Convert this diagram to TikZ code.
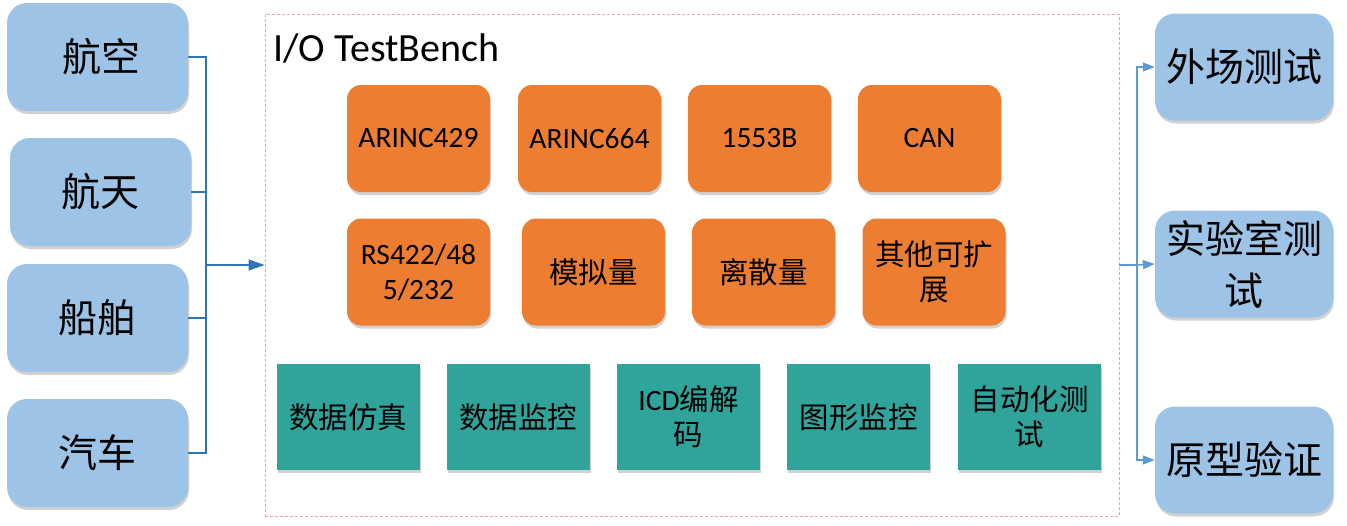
\documentclass[tikz,border=0pt]{standalone}
\usepackage{fontspec}
\setmainfont{Carlito}
\newfontfamily\cjk{Noto Sans CJK SC}
\usetikzlibrary{arrows.meta,shadows}
\definecolor{lblue}{HTML}{9DC3E6}
\definecolor{orng}{HTML}{ED7D31}
\definecolor{teal2}{HTML}{30A39B}
\definecolor{darkln}{HTML}{2E75B6}
\definecolor{lightln}{HTML}{5B9BD5}
\definecolor{framec}{HTML}{E9A3AE}
\tikzset{
  softshadow/.style={drop shadow={shadow xshift=1pt,shadow yshift=-3pt,opacity=0.18,fill=black}},
  sidebox/.style={softshadow,fill=lblue,rounded corners=20pt,minimum width=181pt,minimum height=108pt,inner sep=0pt,align=center,font=\cjk\fontsize{39}{52}\selectfont},
  rbox/.style={sidebox,minimum width=178pt,minimum height=107pt},
  obox/.style={softshadow,fill=orng,rounded corners=14pt,minimum width=143pt,minimum height=107pt,inner sep=0pt,align=center,font=\fontsize{29.5}{35}\selectfont},
  tbox/.style={softshadow,fill=teal2,minimum width=143pt,minimum height=106pt,inner sep=0pt,align=center,font=\fontsize{29.5}{35}\selectfont},
  benchframe/.style={draw=framec,dashed,line width=0.8pt,dash pattern=on 3pt off 2pt,minimum width=854pt,minimum height=502pt,inner sep=0pt},
  lline/.style={draw=darkln,line width=1.3pt},
  rline/.style={draw=lightln,line width=1.5pt}
}
\begin{document}
\begin{tikzpicture}[x=1pt,y=-1pt]
\useasboundingbox (0,0) rectangle (1347,525);
% frame
\node[benchframe] (bench) at (692,265) {};
\node[anchor=base west,font=\fontsize{40}{46}\selectfont,inner sep=0pt] (title) at (273,61) {I/O TestBench};
% left boxes
\node[sidebox] (hk) at (97.5,57) {\hspace*{8pt}航空};
\node[sidebox] (ht) at (100.5,192) {航天};
\node[sidebox] (cb) at (97.5,318) {船舶};
\node[sidebox] (qc) at (97.5,453) {汽车};
% right boxes
\node[rbox] (wc) at (1244,67) {外场测试};
\node[rbox] (sy) at (1244,264) {实验室测\\试};
\node[rbox] (yx) at (1244,460) {原型验证};
% orange row 1
\node[obox] (a429) at (418.5,138.5) {ARINC429};
\node[obox] (a664) at (589.5,138.5) {ARINC664};
\node[obox] (b1553) at (759.5,138.5) {1553B};
\node[obox] (can) at (929.5,138.5) {CAN};
% orange row 2
\node[obox] (rs) at (418.5,272) {RS422/48\\5/232};
\node[obox] (mn) at (593.5,272) {\cjk 模拟量};
\node[obox] (ls) at (763.5,272) {\cjk 离散量};
\node[obox] (qt) at (934,272) {{\cjk 其他可扩}\\{\cjk 展}};
% teal row
\node[tbox] (fz) at (348,417) {\cjk 数据仿真};
\node[tbox] (jk) at (518,417) {\cjk 数据监控};
\node[tbox] (icd) at (688.5,417) {{ICD\cjk 编解}\\{\cjk 码}};
\node[tbox] (tx) at (858.5,417) {\cjk 图形监控};
\node[tbox] (zd) at (1029.5,417) {{\cjk 自动化测}\\{\cjk 试}};
% left connectors
\coordinate (ltrunk) at (206,265);
\draw[lline] (hk.east) -| (ltrunk);
\draw[lline] (ht.east) -| (ltrunk);
\draw[lline] (cb.east) -| (ltrunk);
\draw[lline] (qc.east) -| (ltrunk);
\draw[lline,-{Triangle[length=16pt,width=11pt]}] (ltrunk) -- (bench.west);
% right connectors
\coordinate (rtrunk) at (1137,265);
\draw[rline] (bench.east) -- (rtrunk);
\draw[rline,-{Triangle[length=12pt,width=9pt]}] (rtrunk) |- (wc.west);
\draw[rline,-{Triangle[length=12pt,width=9pt]}] (rtrunk) -- (sy.west);
\draw[rline,-{Triangle[length=12pt,width=9pt]}] (rtrunk) |- (yx.west);
\end{tikzpicture}
\end{document}
